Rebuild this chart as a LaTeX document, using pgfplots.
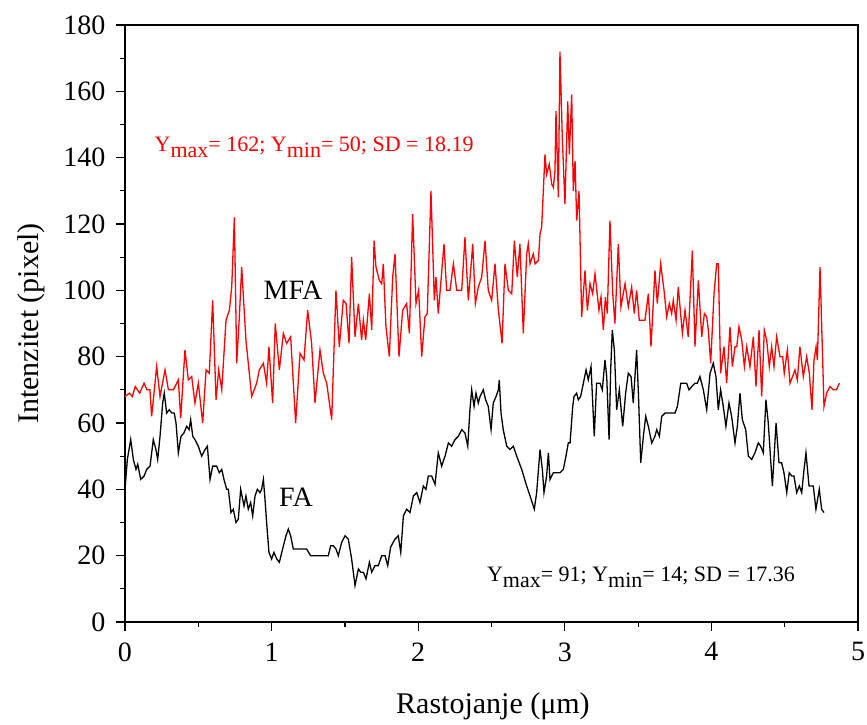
\documentclass[border=0pt]{standalone}
\usepackage{fontspec}
\setmainfont{Liberation Serif}
\newfontfamily\lserif{Liberation Serif}
\usepackage{pgfplots}
\pgfplotsset{compat=1.18}
\begin{document}
\begin{tikzpicture}
\begin{axis}[
 scale only axis, width=733pt, height=597pt,
 xmin=0, xmax=5, ymin=0, ymax=180, clip=false,
 xtick={0,1,2,3,4,5}, ytick={0,20,...,180},
 minor x tick num=1, minor y tick num=1,
 tick align=outside, xtick pos=left, ytick pos=left,
 major tick length=9pt, minor tick length=5pt,
 axis line style={line width=1.2pt},
 tick style={black, line width=1.2pt},
 /pgf/number format/assume math mode=true,
 ticklabel style={font=\lserif\fontsize{28}{30}\selectfont},
 yticklabel style={xshift=-7pt},
 xticklabel style={yshift=-8pt},
]
\addplot[red, line width=1.3pt] coordinates {
(0,68) (0.03,69) (0.05,68) (0.07,71) (0.1,69) (0.13,72) (0.15,70) (0.17,70) (0.182,62)
(0.216,77) (0.239,68) (0.273,76) (0.296,70) (0.33,70) (0.364,73) (0.38,61.5) (0.409,82)
(0.432,73) (0.455,74) (0.477,66) (0.5,72) (0.53,60) (0.553,76) (0.575,75) (0.598,97)
(0.621,67) (0.639,76) (0.66,70) (0.689,91) (0.712,94) (0.728,101) (0.746,122) (0.762,78)
(0.78,92) (0.796,107) (0.825,85) (0.864,68) (0.898,72) (0.916,76) (0.944,78) (0.966,72)
(0.982,83) (1.007,66) (1.025,90) (1.053,76) (1.08,87) (1.103,84) (1.13,86) (1.164,60)
(1.194,81) (1.221,79) (1.246,94) (1.273,84) (1.296,66) (1.33,82) (1.353,75) (1.376,72)
(1.41,61) (1.439,100) (1.462,83) (1.489,97) (1.508,96) (1.528,84) (1.546,110) (1.569,86)
(1.592,96) (1.614,85) (1.626,91) (1.642,85) (1.667,99) (1.683,88) (1.699,115) (1.712,107)
(1.735,103) (1.751,102) (1.762,108) (1.78,89) (1.803,80) (1.826,104) (1.842,111) (1.869,80)
(1.894,94) (1.921,96) (1.94,87) (1.962,123) (1.985,96) (2.003,100) (2.024,80) (2.046,92)
(2.062,93) (2.087,130) (2.11,97) (2.121,104) (2.137,93) (2.176,114) (2.194,100) (2.217,100)
(2.24,108) (2.263,100) (2.297,100) (2.319,116) (2.342,97) (2.372,114) (2.39,96) (2.41,101)
(2.433,104) (2.456,115) (2.478,100) (2.501,97) (2.524,108) (2.547,94) (2.572,84) (2.592,108)
(2.615,100) (2.638,99) (2.656,115) (2.676,104) (2.694,114) (2.717,87) (2.74,111) (2.751,114)
(2.763,108) (2.785,111) (2.797,108) (2.82,109) (2.831,117) (2.842,119) (2.865,141) (2.876,135)
(2.894,138) (2.911,132) (2.922,131) (2.933,136) (2.94,154) (2.956,128) (2.967,172) (2.983,146)
(3.001,126) (3.02,157) (3.031,141) (3.047,159) (3.058,130) (3.07,139) (3.081,121) (3.097,130)
(3.115,92) (3.138,106) (3.154,94) (3.172,102) (3.19,99) (3.206,105) (3.233,94) (3.247,98)
(3.263,88) (3.277,98) (3.29,93) (3.308,121) (3.327,99) (3.342,90) (3.365,114) (3.383,95)
(3.411,102) (3.433,95) (3.456,101) (3.474,93) (3.49,100) (3.508,91) (3.547,91) (3.57,99)
(3.588,83) (3.615,106) (3.631,96) (3.654,108) (3.677,100) (3.695,92) (3.713,96) (3.729,93)
(3.74,97) (3.759,91) (3.774,101) (3.802,87) (3.82,94) (3.842,86) (3.87,112) (3.888,83)
(3.911,103) (3.934,86) (3.952,93) (3.968,92) (3.979,88) (3.995,78) (4.018,99) (4.036,108)
(4.047,108) (4.063,75) (4.086,83) (4.104,72) (4.127,89) (4.143,77) (4.161,83) (4.173,83)
(4.188,89) (4.207,85) (4.225,77) (4.241,83) (4.263,77) (4.286,86) (4.304,71) (4.325,88)
(4.343,68) (4.361,88) (4.377,85) (4.395,77) (4.411,83) (4.427,77) (4.445,86) (4.468,80)
(4.486,80) (4.497,75) (4.518,82) (4.536,72) (4.554,74) (4.57,76) (4.586,73) (4.604,83)
(4.627,74) (4.65,80) (4.668,75) (4.686,64) (4.7,79) (4.714,83) (4.723,79) (4.741,107)
(4.768,65) (4.786,69) (4.809,71) (4.831,70) (4.853,70) (4.873,72)
};
\addplot[black, line width=1.3pt] coordinates {
(0,40) (0.016,49) (0.039,55) (0.057,49) (0.075,46) (0.087,47.6) (0.107,43) (0.13,44)
(0.148,46) (0.171,47) (0.193,55) (0.211,52) (0.223,49) (0.239,56) (0.257,66) (0.268,69)
(0.284,63) (0.302,64) (0.319,63) (0.336,63) (0.348,60) (0.364,51) (0.382,56) (0.402,57)
(0.421,59) (0.437,58) (0.448,61) (0.462,56) (0.477,55) (0.5,53) (0.523,50) (0.546,52)
(0.562,53) (0.58,43) (0.598,47) (0.625,47) (0.643,45) (0.66,46) (0.675,43) (0.694,40)
(0.705,40) (0.723,33) (0.739,34) (0.757,30) (0.773,31) (0.789,40) (0.812,35) (0.825,38)
(0.841,34) (0.857,36) (0.871,32) (0.887,38) (0.903,40) (0.921,39) (0.932,40) (0.944,43)
(0.955,37) (0.966,30) (0.982,21) (1.0,19) (1.016,21) (1.035,19) (1.053,18) (1.075,22)
(1.098,26) (1.114,28) (1.13,26) (1.148,22) (1.182,22) (1.239,22) (1.266,20) (1.33,20)
(1.387,20) (1.403,23) (1.421,23) (1.439,22) (1.455,20) (1.478,24) (1.501,26) (1.523,25)
(1.546,19) (1.569,11) (1.592,16) (1.608,15) (1.626,15) (1.644,13) (1.667,18) (1.683,15)
(1.705,17) (1.728,17) (1.751,20) (1.774,20) (1.792,17) (1.812,22.6) (1.842,25) (1.864,26)
(1.881,21) (1.899,32) (1.921,34) (1.944,33) (1.967,38) (1.99,39) (2.012,36) (2.035,41)
(2.053,40) (2.069,44) (2.092,44) (2.115,41.5) (2.137,51) (2.16,47) (2.183,50) (2.206,54)
(2.228,53) (2.251,55) (2.274,56) (2.297,58) (2.319,57) (2.338,53) (2.353,64) (2.365,70)
(2.381,65) (2.394,69) (2.41,66) (2.422,68) (2.444,70) (2.46,67) (2.478,65) (2.497,58)
(2.512,66) (2.531,68) (2.547,70) (2.553,73) (2.565,63) (2.58,58) (2.604,53) (2.626,52)
(2.649,53) (2.672,50) (2.706,46) (2.74,41) (2.763,38) (2.792,34) (2.808,39) (2.831,52)
(2.847,46) (2.858,39) (2.876,44) (2.888,51) (2.899,43) (2.922,45) (2.956,45) (2.967,45)
(2.99,46) (3.008,50) (3.024,54) (3.036,54) (3.054,65) (3.063,68) (3.081,69) (3.092,67)
(3.108,68) (3.122,71) (3.145,76) (3.16,73) (3.179,77) (3.201,56) (3.217,72) (3.24,72)
(3.256,70) (3.274,79) (3.286,74) (3.302,55) (3.313,76) (3.324,88) (3.338,82) (3.354,64)
(3.372,70) (3.395,59) (3.415,69) (3.433,75) (3.452,74) (3.467,66) (3.49,82) (3.502,69)
(3.518,48) (3.536,56) (3.552,62) (3.57,59) (3.593,54) (3.615,56) (3.627,58) (3.645,56)
(3.661,62) (3.684,63) (3.718,63) (3.752,63) (3.768,65) (3.791,72) (3.808,72) (3.831,72)
(3.847,70) (3.866,71) (3.888,72) (3.904,72) (3.922,74) (3.945,70) (3.968,64) (3.991,75)
(4.013,78) (4.031,74) (4.047,64) (4.063,70) (4.081,65) (4.099,59) (4.12,66) (4.138,62)
(4.161,54) (4.177,59) (4.195,69) (4.211,61) (4.234,58) (4.252,50) (4.275,49) (4.297,51)
(4.32,54) (4.336,53) (4.354,51) (4.372,67) (4.388,60) (4.416,41) (4.441,60) (4.461,48)
(4.479,48) (4.495,45) (4.514,39) (4.531,45) (4.548,44) (4.563,44) (4.582,39) (4.6,41)
(4.616,39) (4.632,46) (4.645,51) (4.666,41) (4.695,41) (4.713,34) (4.736,40) (4.752,34)
(4.768,33)
};
\node[red, font=\lserif\fontsize{22}{24}\selectfont] at (axis cs:1.29,143) {Y\raisebox{-6pt}{max}= 162; Y\raisebox{-6pt}{min}= 50; SD = 18.19};
\node[black, font=\lserif\fontsize{22}{24}\selectfont] at (axis cs:3.52,13.6) {Y\raisebox{-6pt}{max}= 91; Y\raisebox{-6pt}{min}= 14; SD = 17.36};
\node[black, font=\lserif\fontsize{28}{30}\selectfont] at (axis cs:1.146,100) {MFA};
\node[black, font=\lserif\fontsize{28}{30}\selectfont] at (axis cs:1.166,37.7) {FA};
\node[black, font=\lserif\fontsize{30}{34}\selectfont, anchor=center] at (axis description cs:0.502,-0.142) {Rastojanje (μm)};
\node[black, font=\lserif\fontsize{30}{34}\selectfont, anchor=center, rotate=90] at (axis description cs:-0.128,0.5) {Intenzitet (pixel)};
\end{axis}
\pgfresetboundingbox
\useasboundingbox (current axis.south west) ++(-125pt,-103pt) rectangle ++(867pt,725pt);
\end{tikzpicture}
\end{document}
